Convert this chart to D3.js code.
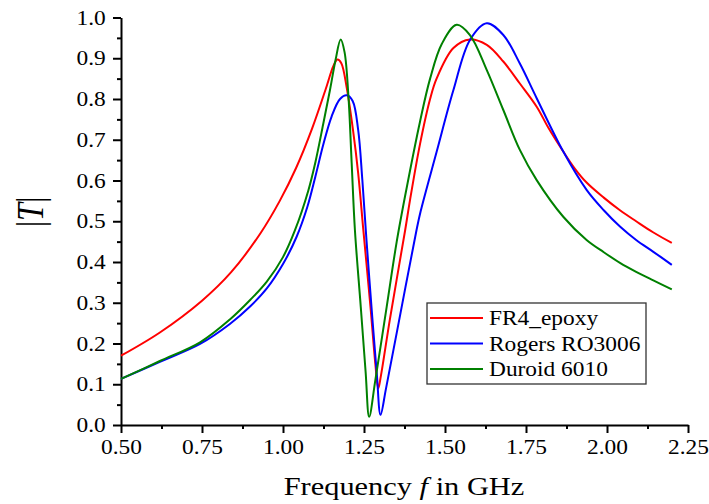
<!DOCTYPE html>
<html>
<head>
<meta charset="utf-8">
<script src="https://cdn.jsdelivr.net/npm/d3@7"></script>
<style>
  body { margin: 0; background: #fff; }
  text { font-family: "Liberation Serif", "Times New Roman", serif; fill: #000; }
</style>
</head>
<body>
<script>
// series: [frequency in GHz, |T|]
const fr4 = [[0.50,0.170],[0.62,0.227],[0.75,0.305],[0.84,0.375],[0.93,0.470],[0.99,0.550],[1.04,0.630],
  [1.09,0.728],[1.135,0.832],[1.155,0.880],[1.168,0.897],[1.18,0.888],[1.197,0.826],[1.216,0.724],[1.232,0.618],
  [1.248,0.478],[1.27,0.29],[1.285,0.15],[1.294,0.09],[1.302,0.12],[1.33,0.26],[1.377,0.478],[1.392,0.552],
  [1.423,0.69],[1.454,0.800],[1.474,0.850],[1.526,0.925],[1.577,0.946],[1.629,0.933],[1.68,0.892],[1.731,0.838],
  [1.783,0.781],[1.82,0.728],[1.865,0.671],[1.90,0.630],[1.937,0.595],[1.99,0.558],[2.04,0.527],[2.09,0.500],
  [2.142,0.473],[2.20,0.447]];
const rogers = [[0.50,0.113],[0.62,0.155],[0.744,0.199],[0.836,0.248],[0.90,0.292],[0.95,0.335],[1.00,0.395],
  [1.042,0.462],[1.075,0.535],[1.10,0.610],[1.125,0.690],[1.150,0.757],[1.176,0.800],[1.197,0.809],[1.215,0.795],
  [1.232,0.724],[1.245,0.60],[1.258,0.45],[1.275,0.27],[1.29,0.12],[1.301,0.025],[1.318,0.09],[1.351,0.226],
  [1.412,0.478],[1.425,0.525],[1.474,0.670],[1.526,0.822],[1.577,0.945],[1.629,0.986],[1.68,0.957],
  [1.731,0.887],[1.783,0.802],[1.865,0.671],[1.937,0.577],[1.99,0.527],[2.04,0.487],[2.09,0.454],
  [2.143,0.425],[2.20,0.393]];
const duroid = [[0.50,0.113],[0.62,0.157],[0.744,0.203],[0.836,0.259],[0.90,0.308],[0.95,0.352],[1.00,0.412],
  [1.037,0.478],[1.078,0.575],[1.10,0.645],[1.124,0.738],[1.145,0.822],[1.162,0.895],[1.178,0.946],
  [1.19,0.915],[1.202,0.806],[1.212,0.642],[1.222,0.478],[1.24,0.29],[1.255,0.13],[1.266,0.02],
  [1.285,0.11],[1.32,0.29],[1.351,0.45],[1.38,0.575],[1.423,0.745],[1.454,0.850],[1.49,0.935],[1.536,0.982],
  [1.577,0.957],[1.629,0.871],[1.68,0.773],[1.731,0.675],[1.783,0.601],[1.865,0.511],[1.937,0.454],
  [1.99,0.424],[2.04,0.398],[2.09,0.376],[2.143,0.355],[2.20,0.333]];

const seriesNames = ["FR4_epoxy", "Rogers RO3006", "Duroid 6010"];
const seriesColors = ["#ff0000", "#0000ff", "#008000"];
const xTicks = [0.5, 0.75, 1.0, 1.25, 1.5, 1.75, 2.0, 2.25];
const yTicks = [0, 0.1, 0.2, 0.3, 0.4, 0.5, 0.6, 0.7, 0.8, 0.9, 1.0];

const width = 709;
const height = 504;
const stretch = 1.17; // text in the picture is a bit wide

const svg = d3.select("body")
    .append("svg")
    .attr("width", width)
    .attr("height", height);

const x = d3.scaleLinear().domain([0.5, 2.25]).range([121, 688]);
const y = d3.scaleLinear().domain([0, 1]).range([425, 17.5]);

// minor ticks first, then major axes on top
svg.append("g")
    .attr("transform", "translate(0,425)")
    .call(d3.axisBottom(x).tickValues(d3.range(0.625, 2.25, 0.25)).tickSize(4).tickFormat("").tickSizeOuter(0))
    .call(g => g.select(".domain").remove())
    .selectAll("line").attr("stroke-width", 2);
svg.append("g")
    .attr("transform", "translate(121,0)")
    .call(d3.axisLeft(y).tickValues(d3.range(0.05, 1, 0.1)).tickSize(4).tickFormat("").tickSizeOuter(0))
    .call(g => g.select(".domain").remove())
    .selectAll("line").attr("stroke-width", 2);

const xAxis = svg.append("g")
    .attr("transform", "translate(0,425)")
    .call(d3.axisBottom(x).tickValues(xTicks).tickSize(8).tickSizeOuter(0).tickFormat(d3.format(".2f")));
xAxis.select(".domain").attr("stroke-width", 2);
xAxis.selectAll("line").attr("stroke-width", 2);
xAxis.selectAll("text")
    .attr("y", 29).attr("dy", null)
    .attr("transform", `scale(${stretch},1)`)
    .style("font-size", "20px");

const yAxis = svg.append("g")
    .attr("transform", "translate(121,0)")
    .call(d3.axisLeft(y).tickValues(yTicks).tickSize(8).tickSizeOuter(0).tickFormat(d3.format(".1f")));
yAxis.select(".domain").attr("stroke-width", 2);
yAxis.selectAll("line").attr("stroke-width", 2);
yAxis.selectAll("text")
    .attr("x", -13).attr("dy", "0.33em")
    .attr("transform", `scale(${stretch},1)`)
    .style("font-size", "20px");

// curves
const line = d3.line()
    .x(d => x(d[0]))
    .y(d => y(d[1]))
    .curve(d3.curveCatmullRom.alpha(0.5));

[fr4, rogers, duroid].forEach((s, i) => {
    svg.append("path")
        .datum(s)
        .attr("fill", "none")
        .attr("stroke", seriesColors[i])
        .attr("stroke-width", 2)
        .attr("d", line);
});

// axis titles
const xt = svg.append("text")
    .attr("transform", `translate(404,495) scale(${stretch},1)`)
    .attr("text-anchor", "middle")
    .style("font-size", "26px");
xt.append("tspan").text("Frequency ");
xt.append("tspan").style("font-style", "italic").text("f");
xt.append("tspan").text(" in GHz");

const yt = svg.append("text")
    .attr("transform", `translate(43,212) scale(${stretch},1) rotate(-90)`)
    .attr("text-anchor", "middle")
    .style("font-size", "32px");
yt.append("tspan").text("|");
yt.append("tspan").style("font-style", "italic").text("T");
yt.append("tspan").text("|");

// legend
const legend = svg.append("g");
legend.append("rect")
    .attr("x", 427).attr("y", 303)
    .attr("width", 219).attr("height", 81)
    .attr("fill", "#fff")
    .attr("stroke", "#333")
    .attr("stroke-width", 1.3);
seriesNames.forEach((name, i) => {
    const ly = 318 + i * 25.5;
    legend.append("line")
        .attr("x1", 430).attr("x2", 483)
        .attr("y1", ly).attr("y2", ly)
        .attr("stroke", seriesColors[i])
        .attr("stroke-width", 2);
    legend.append("text")
        .attr("transform", `translate(489,${ly + 7}) scale(${stretch},1)`)
        .style("font-size", "20px")
        .text(name);
});
</script>
</body>
</html>
